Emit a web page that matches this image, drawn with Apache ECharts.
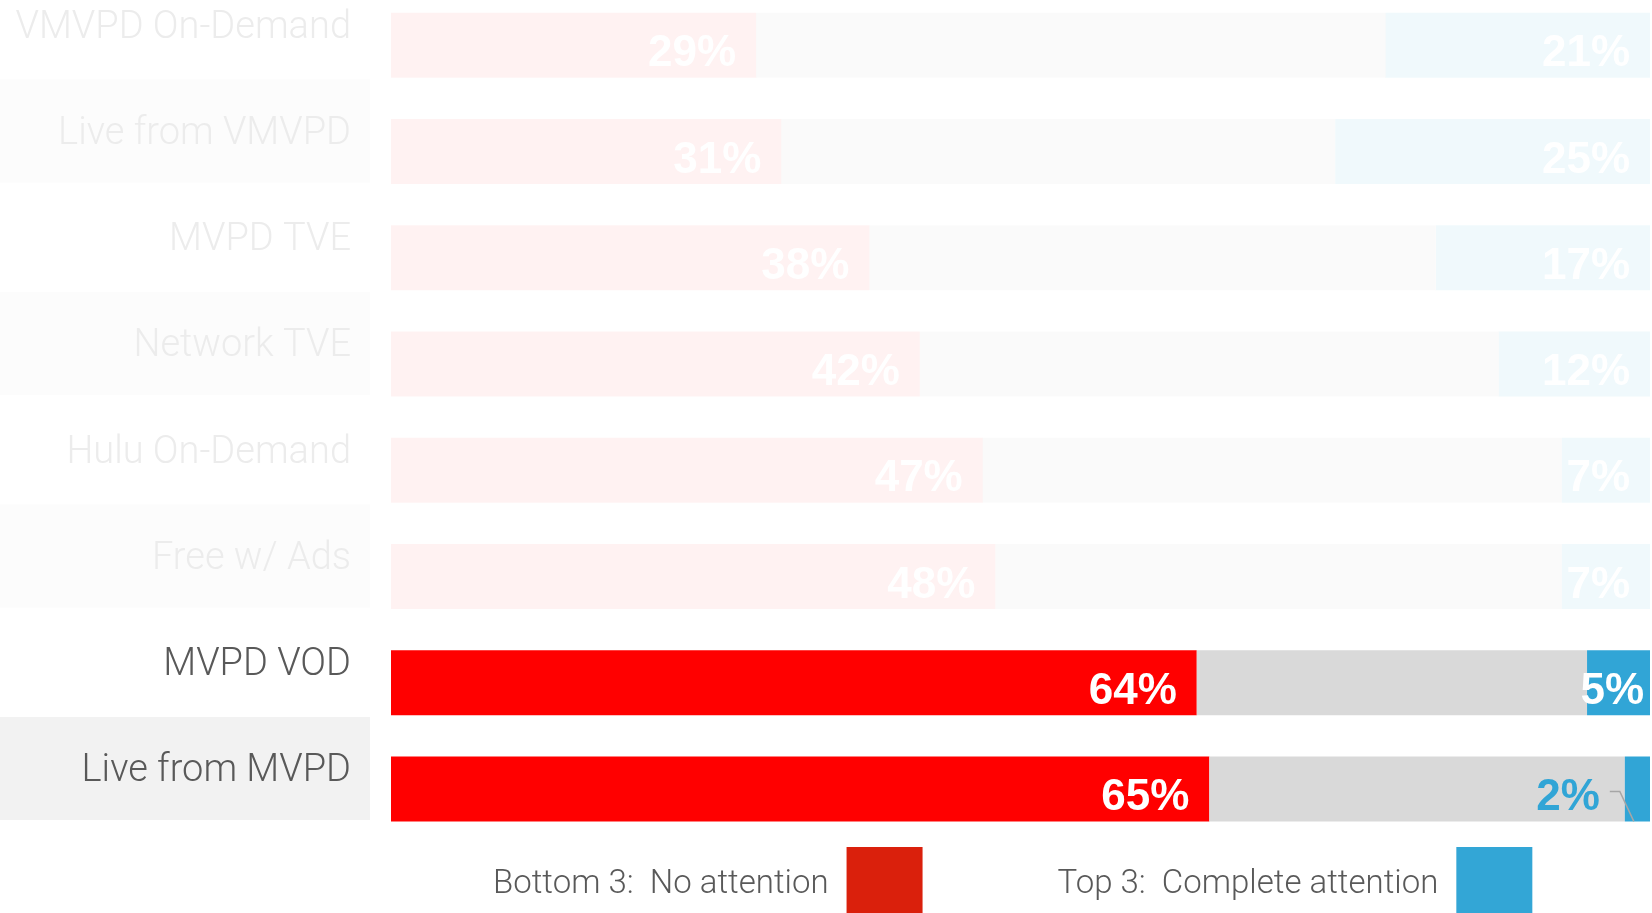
<!DOCTYPE html>
<html>
<head>
<meta charset="utf-8">
<script src="https://cdn.jsdelivr.net/npm/echarts@6/dist/echarts.min.js"></script>
<style>
  html, body { margin: 0; padding: 0; background: #ffffff; }
  #chart { width: 1652px; height: 913px; }
</style>
</head>
<body>
<div id="chart"></div>
<script>
// Attention level while watching, by viewing source (share of respondents, %)
const categories = [
  'VMVPD On-Demand', 'Live from VMVPD', 'MVPD TVE', 'Network TVE',
  'Hulu On-Demand', 'Free w/ Ads', 'MVPD VOD', 'Live from MVPD'
];
const bottom3 = [29, 31, 38, 42, 47, 48, 64, 65];   // No attention
const middle  = [50, 44, 45, 46, 46, 45, 31, 33];   // Everything in between
const top3    = [21, 25, 17, 12, 7, 7, 5, 2];       // Complete attention
const emphasized = [false, false, false, false, false, false, true, true];
const legendNames = ['Bottom 3:  No attention', 'Top 3:  Complete attention'];

const SANS = "Roboto, 'Noto Sans', sans-serif";
const BOLD = "'Liberation Sans', Arial, sans-serif";
const TEXT = '#595959';
const BAR_W = 65;

// full colour and the washed-out version used for muted rows
const RED  = { on: '#FF0000', off: 'rgba(255,0,0,0.05)' };
const GREY = { on: '#D9D9D9', off: 'rgba(217,217,217,0.13)' };
const BLUE = { on: '#31A5D6', off: 'rgba(49,165,214,0.07)' };

function items(values, col, labelFor) {
  return values.map((v, i) => {
    const d = { value: v, itemStyle: { color: emphasized[i] ? col.on : col.off } };
    if (labelFor) {
      const l = labelFor(i);
      if (l) d.label = l;
    }
    return d;
  });
}

const pctLabel = {
  show: true,
  position: 'insideRight',
  distance: 20,
  offset: [0, 9],
  color: '#ffffff',
  fontFamily: BOLD,
  fontWeight: 'bold',
  fontSize: 44,
  formatter: '{c}%'
};

const rowBox = {
  fontFamily: SANS, fontWeight: 300, fontSize: 38,
  width: 351, height: 96, align: 'right', padding: [7, 19, 0, 0]
};

const last = top3.length - 1;

const chart = echarts.init(document.getElementById('chart'), null, { renderer: 'canvas' });
chart.setOption({
  animation: false,
  backgroundColor: '#ffffff',
  grid: { left: 391, right: 2, top: -8, bottom: 71, containLabel: false, outerBoundsMode: 'none' },
  xAxis: {
    type: 'value', min: 0, max: 100,
    axisLine: { show: false }, axisTick: { show: false },
    axisLabel: { show: false }, splitLine: { show: false }
  },
  yAxis: {
    type: 'category',
    data: categories,
    inverse: true,
    axisLine: { show: false }, axisTick: { show: false },
    axisLabel: {
      margin: 21,
      padding: [0, 0, 41, 0],
      formatter: function (value, index) {
        const band = index % 2 === 1;
        const key = (emphasized[index] ? 'on' : 'off') + (band ? 'Band' : 'Plain');
        return '{' + key + '|' + value + '}';
      },
      rich: {
        onPlain:  Object.assign({}, rowBox, { color: TEXT }),
        onBand:   Object.assign({}, rowBox, { color: TEXT, backgroundColor: '#F2F2F2' }),
        offPlain: Object.assign({}, rowBox, { color: '#ECECEC' }),
        offBand:  Object.assign({}, rowBox, { color: '#ECECEC', backgroundColor: '#FCFCFC' })
      }
    }
  },
  legend: {
    left: 488,
    top: 842,
    width: 1150,
    align: 'right',
    icon: 'rect',
    itemWidth: 76,
    itemHeight: 76,
    itemGap: 135,
    selectedMode: false,
    textStyle: { fontFamily: SANS, fontWeight: 300, fontSize: 33, color: TEXT, padding: [0, 13, 0, 0] },
    data: [
      { name: legendNames[0], itemStyle: { color: '#DA200C' } },
      { name: legendNames[1], itemStyle: { color: '#33A6D6' } }
    ]
  },
  series: [
    {
      name: legendNames[0],
      type: 'bar', stack: 'all', barWidth: BAR_W,
      color: RED.on,
      label: pctLabel,
      data: items(bottom3, RED)
    },
    {
      name: 'Middle',
      type: 'bar', stack: 'all', barWidth: BAR_W,
      color: GREY.on,
      label: { show: false },
      data: items(middle, GREY)
    },
    {
      name: legendNames[1],
      type: 'bar', stack: 'all', barWidth: BAR_W,
      color: BLUE.on,
      label: pctLabel,
      data: items(top3, BLUE, function (i) {
        // the thinnest segment carries its value outside, in its own colour
        if (i === last) return { position: 'left', distance: 25, color: BLUE.on };
        if (top3[i] < 6) return { distance: 6 };
        return null;
      })
    }
  ]
});

// leader line from the outside value to its segment
const start = chart.convertToPixel({ gridIndex: 0 }, [100 - top3[last], last]);
const sx = start[0], cy = start[1];
chart.setOption({
  graphic: [{
    type: 'polyline',
    silent: true,
    z: 100,
    shape: { points: [[sx - 15, cy + 2.5], [sx - 5, cy + 2.5], [sx + 9, cy + BAR_W / 2]] },
    style: { stroke: '#A6A6A6', lineWidth: 1.5, fill: null }
  }]
});
</script>
</body>
</html>
